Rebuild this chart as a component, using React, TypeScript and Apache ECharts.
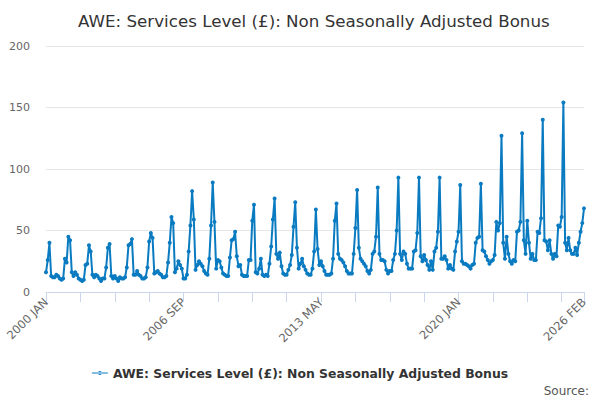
import React, { useEffect, useRef } from "react";
import * as echarts from "echarts";

const MONTHS = ["JAN", "FEB", "MAR", "APR", "MAY", "JUN", "JUL", "AUG", "SEP", "OCT", "NOV", "DEC"];
const START_YEAR = 2000;

const v2000 = [16, 26, 40, 13, 12, 12, 14, 13, 11, 10, 11, 27];
const v2001 = [24, 45, 42, 16, 13, 16, 14, 11, 10, 9, 10, 22];
const v2002 = [23, 38, 33, 14, 12, 14, 13, 11, 9, 11, 11, 20];
const v2003 = [36, 39, 13, 11, 13, 11, 9, 12, 11, 11, 12, 20];
const v2004 = [38, 39, 43, 14, 14, 17, 14, 13, 11, 11, 12, 20];
const v2005 = [41, 48, 44, 15, 16, 17, 15, 14, 12, 12, 13, 24];
const v2006 = [40, 61, 56, 16, 19, 25, 22, 19, 11, 11, 14, 33];
const v2007 = [54, 82, 59, 18, 22, 25, 23, 21, 17, 15, 14, 27];
const v2008 = [54, 89, 57, 19, 26, 25, 20, 15, 14, 13, 13, 28];
const v2009 = [42, 43, 49, 29, 21, 22, 14, 13, 13, 13, 26, 26];
const v2010 = [58, 71, 16, 15, 19, 27, 14, 13, 14, 13, 23, 37];
const v2011 = [59, 76, 31, 27, 32, 21, 15, 14, 14, 18, 22, 30];
const v2012 = [53, 73, 36, 19, 23, 27, 21, 18, 15, 14, 14, 19];
const v2013 = [33, 67, 35, 22, 25, 21, 17, 14, 14, 14, 15, 27];
const v2014 = [58, 72, 31, 27, 26, 24, 21, 17, 15, 15, 15, 31];
const v2015 = [52, 83, 36, 27, 25, 23, 21, 17, 15, 18, 31, 33];
const v2016 = [45, 85, 31, 26, 26, 25, 18, 15, 17, 17, 26, 31];
const v2017 = [50, 93, 31, 26, 33, 31, 23, 19, 19, 19, 33, 34];
const v2018 = [48, 93, 29, 25, 30, 26, 22, 18, 25, 18, 33, 36];
const v2019 = [49, 93, 27, 27, 29, 26, 19, 22, 19, 18, 33, 41];
const v2020 = [49, 87, 25, 23, 23, 22, 21, 19, 22, 23, 40, 44];
const v2021 = [45, 88, 34, 33, 29, 26, 23, 25, 26, 30, 57, 50];
const v2022 = [56, 127, 40, 27, 45, 31, 25, 23, 26, 25, 49, 50];
const v2023 = [57, 129, 42, 31, 58, 40, 27, 31, 26, 26, 49, 48];
const v2024 = [60, 140, 42, 41, 34, 42, 31, 27, 31, 29, 54, 53];
const v2025 = [61, 154, 40, 34, 44, 34, 31, 31, 36, 30, 40, 49];
const v2026 = [56, 68];

const yearly = [
  v2000, v2001, v2002, v2003, v2004, v2005, v2006, v2007, v2008, v2009,
  v2010, v2011, v2012, v2013, v2014, v2015, v2016, v2017, v2018, v2019,
  v2020, v2021, v2022, v2023, v2024, v2025, v2026,
];

const SERIES_NAME = "AWE: Services Level (£): Non Seasonally Adjusted Bonus";
const TITLE = "AWE: Services Level (£): Non Seasonally Adjusted Bonus";
const Y_TICKS = [0, 50, 100, 150, 200];

export default function App() {
  const ref = useRef<HTMLDivElement>(null);
  useEffect(() => {
    document.body.style.margin = "0";
    if (!ref.current) return;
    const chart = echarts.init(ref.current, null, { renderer: "svg" });
    const categories: string[] = [];
    const values: number[] = [];
    yearly.forEach((arr, yi) => {
      arr.forEach((v, mi) => {
        categories.push(`${START_YEAR + yi} ${MONTHS[mi]}`);
        values.push(v);
      });
    });
    const last = categories.length - 1;
    const font = "'DejaVu Sans', Verdana, sans-serif";
    chart.setOption({
      animation: false,
      textStyle: { fontFamily: font },
      title: {
        text: TITLE,
        left: 73,
        top: 7,
        textStyle: { fontSize: 16.7, fontWeight: "normal", color: "#333", fontFamily: font },
      },
      legend: {
        bottom: 16,
        left: "center",
        itemWidth: 16,
        itemHeight: 8,
        itemGap: 6,
        textStyle: { fontSize: 12.4, fontWeight: "bold", color: "#333", fontFamily: font },
        data: [{ name: SERIES_NAME, icon: "path://M0,3.5 L16,3.5 L16,4.5 L0,4.5 Z M6,4 a2,2 0 1,0 4,0 a2,2 0 1,0 -4,0" }],
      },
      graphic: [
        {
          type: "text",
          right: 11,
          bottom: 3,
          style: { text: "Source:", fontSize: 12, fill: "#555", fontFamily: font },
        },
      ],
      grid: { left: 46, right: 16, top: 46, bottom: 108, containLabel: false },
      xAxis: {
        type: "category",
        data: categories,
        boundaryGap: false,
        axisLine: { lineStyle: { color: "#ccd6eb" } },
        axisTick: {
          length: 10,
          lineStyle: { color: "#ccd6eb" },
          interval: (i: number) => i % 20 === 0 || i === last,
        },
        axisLabel: {
          rotate: 45,
          color: "#666",
          fontSize: 11.5,
          margin: 8,
          interval: (i: number) => i % 80 === 0 || i === last,
        },
        splitLine: { show: false },
      },
      yAxis: {
        type: "value",
        min: Y_TICKS[0],
        max: Y_TICKS[Y_TICKS.length - 1],
        interval: 50,
        axisLine: { show: false },
        axisTick: { show: false },
        axisLabel: { color: "#666", fontSize: 11, margin: 16 },
        splitLine: { lineStyle: { color: "#e6e6e6" } },
      },
      series: [
        {
          name: SERIES_NAME,
          type: "line",
          data: values,
          symbol: "circle",
          symbolSize: 4,
          showAllSymbol: true,
          lineStyle: { width: 2, color: "#0a7bc1" },
          itemStyle: { color: "#0a7bc1" },
        },
      ],
    });
    return () => chart.dispose();
  }, []);
  return <div ref={ref} style={{ width: 600, height: 400 }} />;
}
